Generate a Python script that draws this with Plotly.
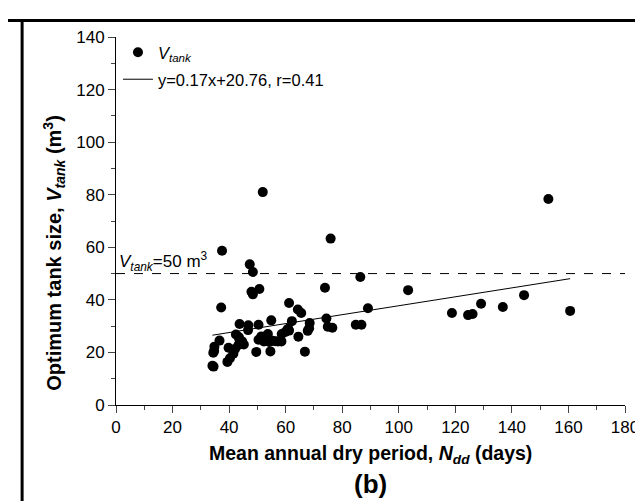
import plotly.graph_objects as go

# Data
dry_days = [51.9, 152.9, 75.9, 37.5, 47.3, 48.4, 86.4, 73.9, 103.3, 50.7, 47.9, 48.4,
            144.3, 61.2, 129.1, 136.8, 37.2, 89.1, 64.3, 65.5, 160.6, 118.8, 124.5, 126.1,
            74.4, 54.9, 62.2, 68.5, 43.7, 46.8, 50.4, 84.8, 86.8, 74.9, 76.5, 68.3, 60.9,
            46.7, 67.8, 59.9, 61.2, 58.6, 42.4, 53.7, 51.4, 43.4, 43.6, 64.5, 36.6, 50.4,
            53.2, 56.4, 55.4, 58.5, 44.6, 52.3, 54.2, 43.3, 34.8, 39.8, 42.1, 34.7, 34.4,
            54.6, 66.8, 41.5, 49.6, 40.3, 39.4, 34.1, 34.5, 57.3, 60.6, 52.6, 45.2]
tank_size = [81.0, 78.4, 63.3, 58.7, 53.5, 50.6, 48.7, 44.6, 43.7, 44.1, 43.1, 42.1,
             41.8, 38.8, 38.5, 37.3, 37.1, 36.8, 36.3, 35.0, 35.8, 35.0, 34.2, 34.6,
             32.9, 32.2, 31.9, 31.2, 30.8, 30.3, 30.5, 30.5, 30.5, 29.8, 29.4, 29.2, 29.0,
             28.5, 28.2, 27.8, 28.3, 27.0, 26.8, 27.0, 26.1, 25.9, 25.2, 26.0, 24.5, 24.8,
             24.8, 24.3, 24.4, 24.2, 24.2, 24.2, 24.0, 22.8, 22.2, 21.8, 21.3, 20.5, 19.9,
             20.4, 20.3, 19.5, 20.2, 17.8, 16.4, 14.9, 14.6, 24.2, 28.6, 24.8, 23.0]

slope = 0.17
intercept = 20.76
threshold = 50

x_ticks = [0, 20, 40, 60, 80, 100, 120, 140, 160, 180]
y_ticks = [0, 20, 40, 60, 80, 100, 120, 140]

fit_x = [min(dry_days), max(dry_days)]
fit_y = [slope * v + intercept for v in fit_x]

fig = go.Figure()
fig.add_trace(go.Scatter(
    x=dry_days, y=tank_size, mode="markers",
    marker=dict(color="black", size=10),
    name="<i>V</i><sub><i>tank</i></sub>",
    legend="legend",
))
fig.add_trace(go.Scatter(
    x=fit_x, y=fit_y, mode="lines",
    line=dict(color="black", width=1),
    name="y=0.17x+20.76, r=0.41",
    legend="legend2",
))

# threshold dashed line
fig.add_shape(type="line", xref="x", yref="y", x0=0, x1=180, y0=threshold, y1=threshold,
              line=dict(color="black", width=1, dash="dash"))
fig.add_annotation(xref="x", yref="y", x=0.5, y=threshold, xanchor="left", yanchor="bottom",
                   text="<i>V</i><sub><i>tank</i></sub>=50 m<sup>3</sup>", showarrow=False,
                   font=dict(size=17, color="black"), yshift=-2)

# outer frame lines
L, R, T, B = 108, 623, 29, 397
W, H = 643, 501
def px(xp):
    return (xp - L) / (R - L)
def py(yp):
    return (B - yp) / (B - T)
frame = dict(color="black", width=3)
fig.add_shape(type="line", xref="paper", yref="paper", x0=px(-5), x1=px(637.5), y0=py(12.5), y1=py(12.5),
              line=frame, layer="above")
fig.add_shape(type="line", xref="paper", yref="paper", x0=px(13), x1=px(13), y0=py(11), y1=py(510),
              line=frame, layer="above")
fig.add_shape(type="line", xref="paper", yref="paper", x0=px(636), x1=px(636), y0=py(11), y1=py(510),
              line=frame, layer="above")

# titles
fig.add_annotation(xref="paper", yref="paper", x=0.5, y=py(446), xanchor="center", yanchor="middle",
                   text="<b>Mean annual dry period, <i>N</i><sub><i>dd</i></sub> (days)</b>",
                   showarrow=False, font=dict(size=19.5, color="black"))
fig.add_annotation(xref="paper", yref="paper", x=px(46), y=py(245), xanchor="center", yanchor="middle",
                   textangle=-90,
                   text="<b>Optimum tank size, <i>V</i><sub><i>tank</i></sub> (m<sup>3</sup>)</b>",
                   showarrow=False, font=dict(size=20, color="black"))
fig.add_annotation(xref="paper", yref="paper", x=0.5, y=py(476), xanchor="center", yanchor="middle",
                   text="<b>(b)</b>", showarrow=False, font=dict(size=26, color="black"))

font_family = "Liberation Sans, Arial, sans-serif"
fig.update_layout(
    width=W, height=H,
    margin=dict(l=L, r=W - R, t=T, b=H - B),
    paper_bgcolor="white", plot_bgcolor="white",
    font=dict(family=font_family, color="black", size=17),
    showlegend=True,
    legend=dict(x=px(110), y=py(27), xanchor="left", yanchor="top",
                bgcolor="rgba(0,0,0,0)", font=dict(size=16.5)),
    legend2=dict(x=px(110), y=py(54), xanchor="left", yanchor="top",
                 bgcolor="rgba(0,0,0,0)", font=dict(size=16.5)),
    xaxis=dict(range=[0, 180], tickvals=x_ticks, ticks="outside", ticklen=7, tickwidth=1,
               showline=True, linecolor="black", linewidth=1, showgrid=False, zeroline=False,
               minor=dict(dtick=10, ticks="outside", ticklen=4, tickwidth=1, showgrid=False),
               tickfont=dict(size=17)),
    yaxis=dict(range=[0, 140], tickvals=y_ticks, ticks="outside", ticklen=7, tickwidth=1,
               showline=True, linecolor="black", linewidth=1, showgrid=False, zeroline=False,
               minor=dict(dtick=10, ticks="outside", ticklen=4, tickwidth=1, showgrid=False),
               tickfont=dict(size=17)),
)

fig.write_html("out.html")
